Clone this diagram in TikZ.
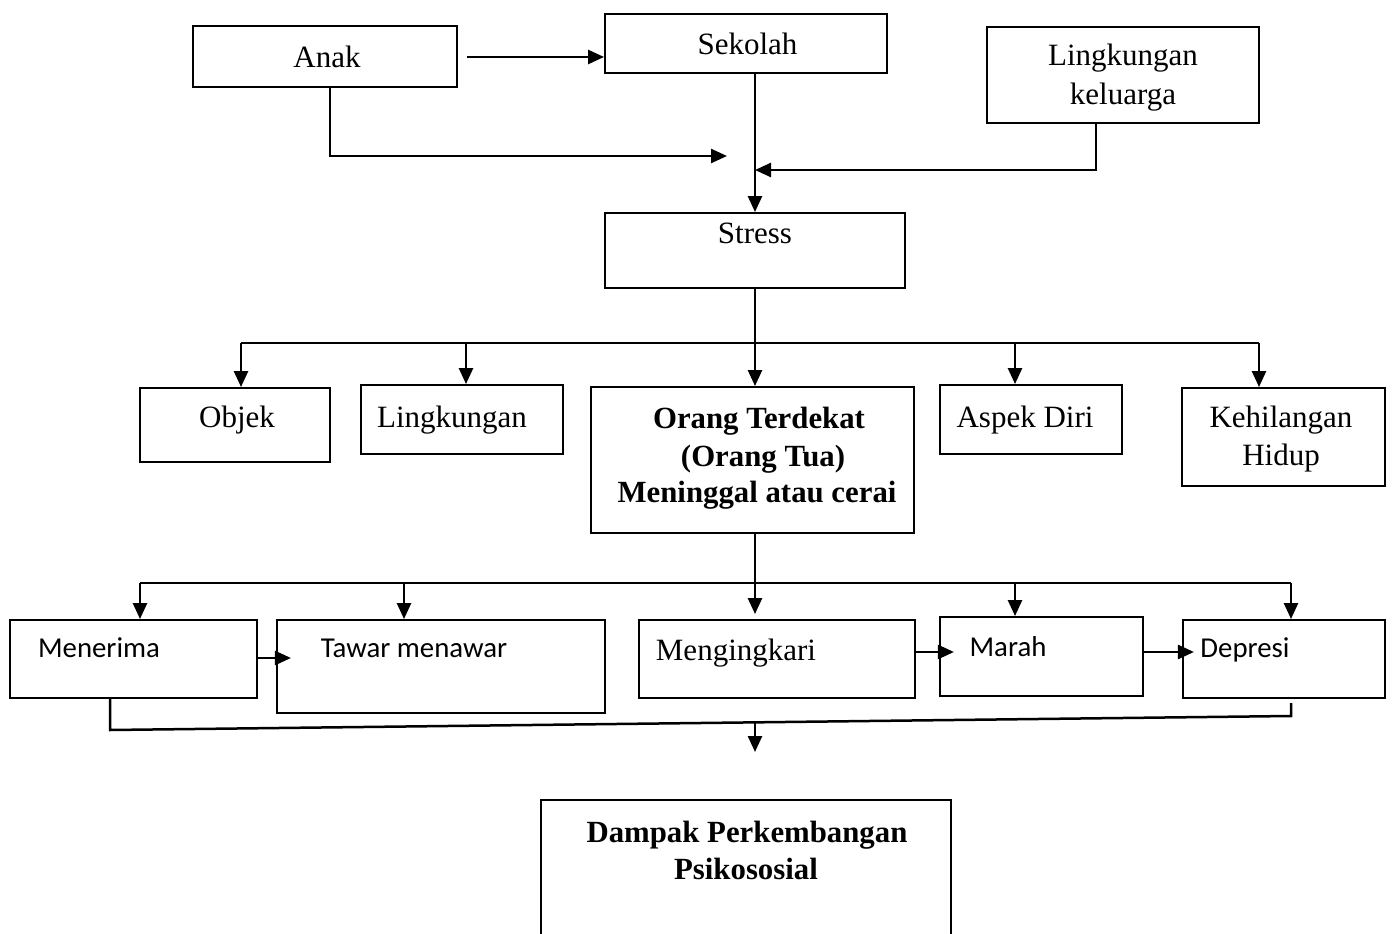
\documentclass[tikz,border=0pt]{standalone}
\usepackage{fontspec}
\setmainfont{Liberation Serif}
\newfontfamily\calfont{Carlito}
\usetikzlibrary{arrows.meta}
\tikzset{
  box/.style={draw=black, line width=1.9pt, inner sep=0pt, fill=none},
  txt/.style={inner sep=0pt, anchor=base, font=\fontsize{31}{37}\selectfont},
  btxt/.style={inner sep=0pt, anchor=base, font=\fontsize{30.8}{37}\bfseries\selectfont},
  ctxt/.style={inner sep=0pt, anchor=base, font=\calfont\fontsize{28.8}{34}\selectfont},
  conn/.style={draw=black, line width=2.5pt},
  arr/.style={conn, -{Triangle[length=16pt,width=14pt]}},
}
\begin{document}
\begin{tikzpicture}[x=1pt,y=-1pt]
\path[use as bounding box, fill=white] (0,0) rectangle (1393,934);
\clip (0,0) rectangle (1393,934);
% boxes
\node[box, minimum width=264, minimum height=61] (anak) at (325,56.5) {};
\node[box, minimum width=282, minimum height=59] (sekolah) at (746,43.5) {};
\node[box, minimum width=272, minimum height=96] (lk) at (1123,75) {};
\node[box, minimum width=300, minimum height=75] (stress) at (755,250.5) {};
\node[box, minimum width=190, minimum height=74] (objek) at (235,425) {};
\node[box, minimum width=202, minimum height=69] (ling) at (462,419.5) {};
\node[box, minimum width=323, minimum height=146] (orang) at (752.5,460) {};
\node[box, minimum width=182, minimum height=69] (aspek) at (1031,419.5) {};
\node[box, minimum width=203, minimum height=98] (hilang) at (1283.5,437) {};
\node[box, minimum width=247, minimum height=78] (menerima) at (133.5,659) {};
\node[box, minimum width=328, minimum height=93] (tawar) at (441,666.5) {};
\node[box, minimum width=276, minimum height=78] (ingkar) at (777,659) {};
\node[box, minimum width=203, minimum height=79] (marah) at (1041.5,656.5) {};
\node[box, minimum width=202, minimum height=78] (depresi) at (1284,659) {};
\node[box, minimum width=410, minimum height=160] (dampak) at (746,880) {};
% texts
\node[txt] (tAnak) at (327,67) {Anak};
\node[txt] (tSek) at (747.5,55) {Sekolah};
\node[txt] (tLk1) at (1123,66) {Lingkungan};
\node[txt] (tLk2) at (1123,104) {keluarga};
\node[txt] (tStress) at (755,243) {Stress};
\node[txt] (tObjek) at (237,427) {Objek};
\node[txt] (tLing) at (452,427) {Lingkungan};
\node[btxt] (tOr1) at (759,428) {Orang Terdekat};
\node[btxt] (tOr2) at (763,466) {(Orang Tua)};
\node[btxt] (tOr3) at (757,502) {Meninggal atau cerai};
\node[txt] (tAspek) at (1025,427) {Aspek Diri};
\node[txt] (tHil1) at (1281,427) {Kehilangan};
\node[txt] (tHil2) at (1281,465) {Hidup};
\node[ctxt] (tMen) at (99,657) {Menerima};
\node[ctxt] (tTaw) at (414,657) {Tawar menawar};
\node[txt] (tIng) at (736,660) {Mengingkari};
\node[ctxt] (tMar) at (1008,656) {Marah};
\node[ctxt] (tDep) at (1245,657) {Depresi};
\node[btxt] (tDa1) at (747,842) {Dampak Perkembangan};
\node[btxt] (tDa2) at (746,879) {Psikososial};
% coordinates
\coordinate (a1) at (467,57);
\coordinate (a2) at (330,87);
\coordinate (a3) at (727,156);
\coordinate (lkx) at (1096,0);
\coordinate (j1) at (755,170);
\coordinate (b0) at (755,343);
\coordinate (bL) at (241,343);
\coordinate (bR) at (1259,343);
\coordinate (bA) at (241,343);
\coordinate (bB) at (466,343);
\coordinate (bC) at (755,343);
\coordinate (bD) at (1015,343);
\coordinate (bE) at (1259,343);
\coordinate (c0) at (755,583);
\coordinate (cL) at (140,583);
\coordinate (cR) at (1291,583);
\coordinate (cA) at (140,583);
\coordinate (cB) at (404,583);
\coordinate (cC) at (755,583);
\coordinate (cD) at (1015,583);
\coordinate (cE) at (1291,583);
\coordinate (r1) at (0,658);
\coordinate (r2) at (0,652);
\coordinate (d1) at (110,698);
\coordinate (d2) at (110,730);
\coordinate (d3) at (1291,716);
\coordinate (d4) at (1291,703);
\coordinate (e1) at (755,722);
\coordinate (e2) at (755,752);
% connectors
\draw[arr] (a1) -- (a1 -| sekolah.west);
\draw[arr] (a2) |- (a3);
\draw[arr] (stress.north |- sekolah.south) -- (stress.north);
\draw[arr] (lk.south -| lkx) |- (j1);
\draw[conn] (stress.south) -- (b0);
\draw[conn] (bL) -- (bR);
\draw[arr] (bA) -- (bA |- objek.north);
\draw[arr] (bB) -- (bB |- ling.north);
\draw[arr] (bC) -- (bC |- orang.north);
\draw[arr] (bD) -- (bD |- aspek.north);
\draw[arr] (bE) -- (bE |- hilang.north);
\draw[conn] (orang.south -| c0) -- (c0);
\draw[conn] (cL) -- (cR);
\draw[arr] (cA) -- (cA |- menerima.north);
\draw[arr] (cB) -- (cB |- tawar.north);
\draw[arr] (cC) -- ([yshift=5pt]cC |- ingkar.north);
\draw[arr] (cD) -- (cD |- marah.north);
\draw[arr] (cE) -- (cE |- depresi.north);
\draw[arr] (menerima.east |- r1) -- ++(33,0);
\draw[arr] (ingkar.east |- r2) -- ++(38,0);
\draw[arr] (marah.east |- r2) -- ++(50,0);
\draw[conn] (d1 |- menerima.south) -- (d2) -- (d3) -- (d4);
\draw[arr] (e1) -- (e2);
\end{tikzpicture}
\end{document}
